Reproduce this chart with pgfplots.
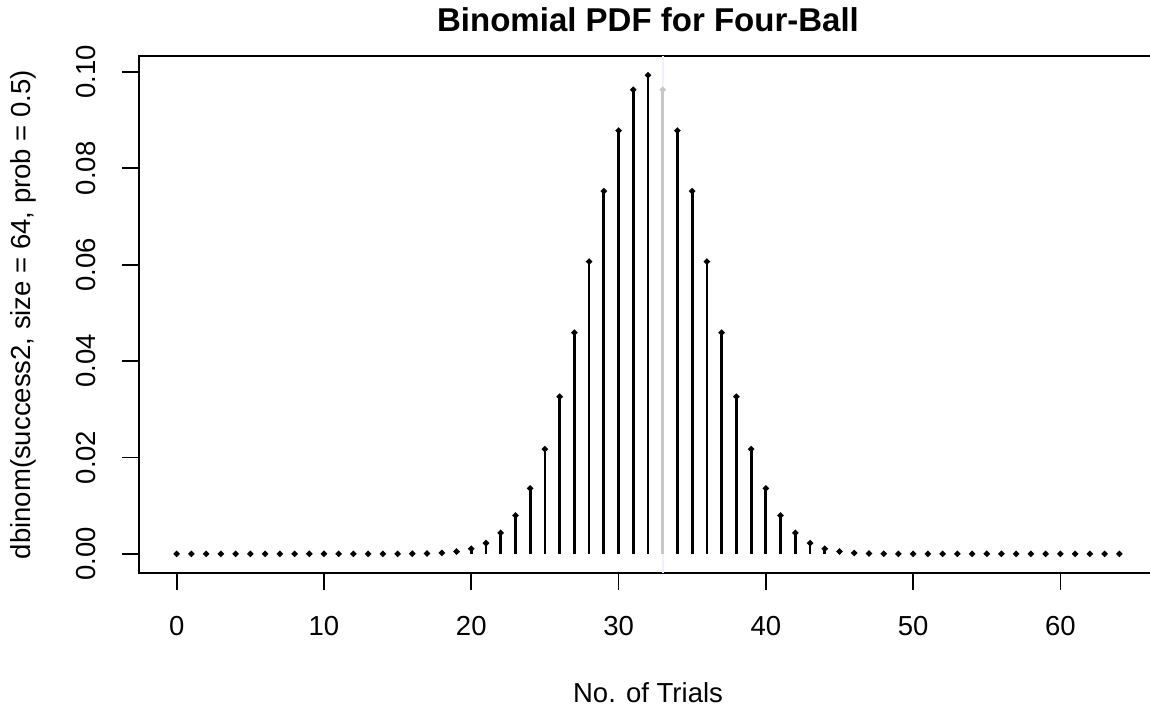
\documentclass[border=0pt]{standalone}
\usepackage{fontspec}
\setmainfont{Liberation Sans}
\usepackage{pgfplots}
\usepackage{pgfplotstable}
\pgfplotsset{compat=1.18}

% dbinom(0:64, size = 64, prob = 0.5), bar at 33 drawn separately
\pgfplotstableread{
k p
0 5.42e-20
1 3.47e-18
2 1.09e-16
3 2.26e-15
4 3.46e-14
5 4.17e-13
6 4.10e-12
7 3.40e-11
8 2.42e-10
9 1.49e-9
10 8.21e-9
11 4.03e-8
12 1.78e-7
13 7.12e-7
14 2.594e-6
15 8.648e-6
16 2.648e-5
17 7.478e-5
18 1.9525e-4
19 4.7271e-4
20 1.0636e-3
21 2.2285e-3
22 4.3556e-3
23 7.9538e-3
24 0.013588
25 0.021740
26 0.032610
27 0.045896
28 0.060648
29 0.075287
30 0.087835
31 0.096336
32 0.099347
34 0.087835
35 0.075287
36 0.060648
37 0.045896
38 0.032610
39 0.021740
40 0.013588
41 7.9538e-3
42 4.3556e-3
43 2.2285e-3
44 1.0636e-3
45 4.7271e-4
46 1.9525e-4
47 7.478e-5
48 2.648e-5
49 8.648e-6
50 2.594e-6
51 7.12e-7
52 1.78e-7
53 4.03e-8
54 8.21e-9
55 1.49e-9
56 2.42e-10
57 3.40e-11
58 4.10e-12
59 4.17e-13
60 3.46e-14
61 2.26e-15
62 1.09e-16
63 3.47e-18
64 5.42e-20
}\pmf

\begin{document}
\begin{tikzpicture}
\begin{axis}[
  scale only axis,
  width=509pt, height=258.5pt,
  xmin=-2.56, xmax=66.56,
  ymin=-0.003974, ymax=0.103321,
  axis line style={line width=0.9pt},
  tick align=outside,
  major tick length=8.5pt,
  tick style={line width=0.9pt, black},
  xtick={0,10,...,60},
  ytick={0,0.02,0.04,0.06,0.08,0.1},
  xtick pos=lower, ytick pos=left,
  scaled y ticks=false,
  /pgf/number format/assume math mode=true,
  ticklabel style={font=\fontsize{13.75}{16}\selectfont},
  xticklabel style={anchor=north, inner sep=0pt, yshift=-13pt},
  yticklabel style={/pgf/number format/fixed, /pgf/number format/fixed zerofill,
    /pgf/number format/precision=2, rotate=90, anchor=south, inner sep=0pt, yshift=13pt},
  title={Binomial PDF for Four-Ball},
  title style={font=\bfseries\fontsize{16.5}{19}\selectfont,
    at={(axis description cs:0.5,1)}, anchor=base, yshift=6.5pt},
  xlabel={No. of Trials},
  xlabel style={font=\fontsize{13.75}{16}\selectfont,
    at={(axis description cs:0.5,0)}, anchor=base, yshift=-64.5pt},
  ylabel={dbinom(success2, size = 64, prob = 0.5)},
  ylabel style={font=\fontsize{13.75}{16}\selectfont, rotate=0,
    at={(axis description cs:-0.1003,0.5)}, anchor=south, inner sep=0pt},
]
\addplot[ycomb, black, line width=1.4pt, mark=*, mark size=0.7pt,
  mark options={solid, fill=black, draw=none}] table[x=k, y=p] {\pmf};
\addplot[white!94!blue, line width=0.9pt, forget plot, clip=false]
  coordinates {(33,-0.003974) (33,0.103321)};
\addplot[ycomb, black!22, line width=1.4pt, mark=*, mark size=0.7pt,
  mark options={fill=black!22, draw=none}] coordinates {(33,0.096336)};
\end{axis}
\pgfresetboundingbox
\path[use as bounding box] ([shift={(-69.5pt,-68pt)}]current axis.south west)
  rectangle ([shift={(-3.5pt,28pt)}]current axis.north east);
\end{tikzpicture}
\end{document}
